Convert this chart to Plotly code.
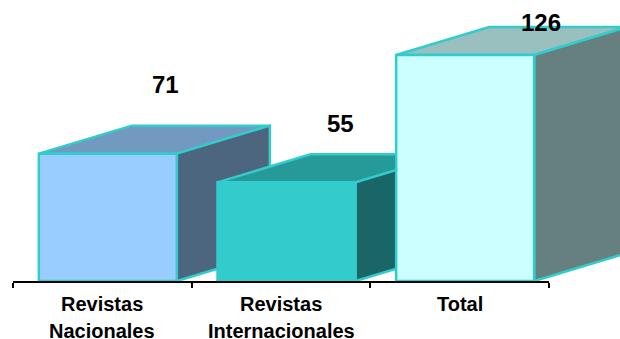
import plotly.graph_objects as go

# Data
categories = ["Revistas Nacionales", "Revistas Internacionales", "Total"]
label_lines = [["Revistas", "Nacionales"], ["Revistas", "Internacionales"], ["Total"]]
values = [71, 55, 126]

# Styles
front_colors = ["#99ccff", "#33cccc", "#ccffff"]
top_colors = ["#7299bf", "#269999", "#99bfbf"]
side_colors = ["#4d667f", "#1a6666", "#667f7f"]
edge_color = "#33cccc"
value_shift = [(63, 69), (59, 59), (81, 33)]
FONT = "Liberation Sans"

W, H = 620, 339
AX_L, AX_R, BASE = 13, 549, 281
X_UNIT = (AX_R - AX_L) / 3
Y_UNIT = 226 / 126

half = 69 / X_UNIT
offset = 5.5 / X_UNIT
dx = 93 / X_UNIT
dy = 28 / Y_UNIT

fig = go.Figure()


def face(xs, ys, fill, name):
    fig.add_trace(go.Scatter(
        x=xs + xs[:1], y=ys + ys[:1], mode="lines", fill="toself",
        fillcolor=fill, line=dict(color=edge_color, width=2.5),
        hoverinfo="skip", showlegend=False, name=name,
    ))


for i, (cat, v) in enumerate(zip(categories, values)):
    a, b = i + offset - half, i + offset + half
    face([a, b, b + dx, a + dx], [v, v, v + dy, v + dy], top_colors[i], cat)
    face([b, b + dx, b + dx, b], [0, dy, v + dy, v], side_colors[i], cat)
    face([a, b, b, a], [0, 0, v, v], front_colors[i], cat)

# invisible trace so the overlay axis that carries the baseline and ticks is drawn
fig.add_trace(go.Scatter(x=[0], y=[0], xaxis="x2", yaxis="y2", mode="markers",
                         marker=dict(opacity=0), hoverinfo="skip", showlegend=False))

annotations = []
for i, (v, (sx, sy)) in enumerate(zip(values, value_shift)):
    annotations.append(dict(
        x=i, y=v, xref="x", yref="y", text=f"<b>{v}</b>", showarrow=False,
        xshift=sx, yshift=sy, xanchor="center", yanchor="middle",
        font=dict(family=FONT, size=24, color="black"),
    ))
for i, lines in enumerate(label_lines):
    for j, line in enumerate(lines):
        annotations.append(dict(
            x=i, y=0, xref="x", yref="y", text=f"<b>{line}</b>", showarrow=False,
            xanchor="center", yanchor="middle", yshift=-23 - 27 * j,
            font=dict(family=FONT, size=20, color="black"),
        ))

center0 = AX_L + X_UNIT / 2
fig.update_layout(
    width=W, height=H, margin=dict(l=0, r=0, t=0, b=0, pad=0),
    paper_bgcolor="white", plot_bgcolor="rgba(0,0,0,0)", showlegend=False,
    annotations=annotations,
    xaxis=dict(range=[-center0 / X_UNIT, (W - center0) / X_UNIT], domain=[0, 1],
               visible=False, showgrid=False, zeroline=False),
    yaxis=dict(range=[-(H - BASE) / Y_UNIT, BASE / Y_UNIT], domain=[0, 1],
               visible=False, showgrid=False, zeroline=False),
    xaxis2=dict(
        domain=[AX_L / W, AX_R / W], anchor="y2", range=[-0.5, 2.5], tickmode="array",
        tickvals=[-0.5, 0.5, 1.5, 2.5], ticktext=["", "", "", ""],
        ticks="outside", ticklen=5, tickwidth=1.5, tickcolor="black",
        showline=True, linecolor="black", linewidth=2, showgrid=False, zeroline=False,
    ),
    yaxis2=dict(domain=[(H - BASE) / H, 1], anchor="x2", range=[0, BASE / Y_UNIT],
                visible=False, showgrid=False, zeroline=False),
)

fig.write_html("out.html", config={"displayModeBar": False},
               post_script="document.body.style.margin='0';")
